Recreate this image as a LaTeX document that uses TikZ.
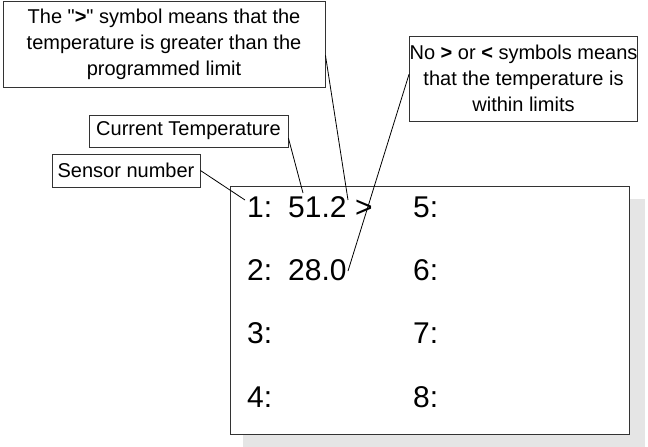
\documentclass[tikz,border=0pt]{standalone}
\usepackage{fontspec}
\setmainfont{Liberation Sans}
\usetikzlibrary{calc}
\definecolor{shadowgray}{HTML}{E5E5E5}
\newcommand\straightquote{\XeTeXglyph\XeTeXcharglyph34\relax}
\begin{document}
\begin{tikzpicture}[x=1pt,y=-1pt,
  callout/.style={draw=black!80,line width=0.9pt,fill=white,inner sep=0pt,align=center,
     font=\fontsize{20}{26}\selectfont},
  big/.style={inner sep=0pt,anchor=base west,font=\fontsize{30}{34}\selectfont},
  lead/.style={draw=black,line width=0.8pt}]
\useasboundingbox (0,0) rectangle (648,447);
% display panel
\fill[shadowgray] (243,199) rectangle (645,447);
\node[draw=black!80,line width=0.9pt,fill=white,minimum width=399pt,minimum height=248pt,inner sep=0pt] (panel) at (429.5,310) {};
% readings
\node[big] (n1) at (247,217) {1:};
\node[big] (v1) at (288,217) {51.2};
\node[big] (g1) at (355,217) {>};
\node[big] (n5) at (413,217) {5:};
\node[big] (n2) at (247,280) {2:};
\node[big] (v2) at (288,280) {28.0};
\node[big] (n6) at (413,280) {6:};
\node[big] (n3) at (247,343) {3:};
\node[big] (n7) at (413,343) {7:};
\node[big] (n4) at (247,407) {4:};
\node[big] (n8) at (413,407) {8:};
% callouts
\node[callout,minimum width=322pt,minimum height=86pt] (gtbox) at (164,44)
  {The \straightquote\textbf{>}\straightquote{} symbol means that the\\temperature is greater than the\\programmed limit};
\node[callout,minimum width=228pt,minimum height=85pt] (nobox) at (523.5,78.5)
  {No \textbf{>} or \textbf{<} symbols means\\that the temperature is\\within limits};
\node[callout,minimum width=199pt,minimum height=32pt] (curbox) at (188.5,131)
  {Current Temperature};
\node[callout,minimum width=148pt,minimum height=33pt] (senbox) at (126,170.5)
  {Sensor number};
% connector ends
\coordinate (pgt) at (348,200);
\coordinate (pno) at (348,271);
\coordinate (pcur) at (303,193);
\coordinate (psen) at (245,200);
\draw[lead] ($(gtbox.north east)!0.63!(gtbox.south east)$) -- (pgt);
\draw[lead] ($(nobox.north west)!0.45!(nobox.south west)$) -- (pno);
\draw[lead] ($(curbox.north east)!0.72!(curbox.south east)$) -- (pcur);
\draw[lead] (senbox.east) -- (psen);
\end{tikzpicture}
\end{document}
